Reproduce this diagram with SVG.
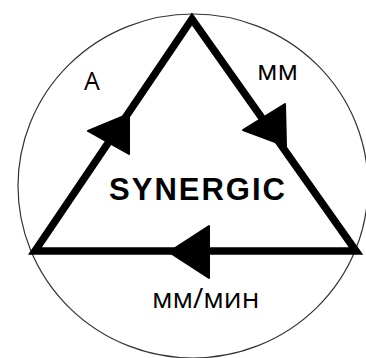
<svg xmlns="http://www.w3.org/2000/svg" width="366" height="358" viewBox="0 0 366 358">
<style>
.lbl{font-family:"Open Sans","Liberation Sans",sans-serif;fill:#000}
.title{font-family:"Liberation Sans",Arial,sans-serif;font-weight:bold;fill:#000}
.edge{fill:none;stroke:#000;stroke-width:7.5;stroke-linejoin:miter}
.head{fill:#000;stroke:#000;stroke-width:2;stroke-linejoin:round}
</style>
<rect width="366" height="358" fill="#fff"/>
<g id="circle"><ellipse cx="193" cy="186" rx="175" ry="172" fill="none" stroke="#333" stroke-width="1.2"/></g>
<g id="connectors">
<polygon class="edge" points="192,19 35,251 356,251"/>
<polygon class="head" points="129,114 88,131 129,154"/>
<polygon class="head" points="286,146 243,130 285,104"/>
<polygon class="head" points="169,252 209,226 209,278"/>
</g>
<g id="label-a"><text class="lbl" x="84" y="90" font-size="25">A</text></g>
<g id="label-mm"><text class="lbl" x="257" y="80" font-size="28">мм</text></g>
<g id="label-speed"><text class="lbl" x="152" y="308" font-size="28">мм/мин</text></g>
<g id="synergic"><text class="title" x="109" y="200" font-size="31" textLength="176" lengthAdjust="spacing">SYNERGIC</text></g>
</svg>
